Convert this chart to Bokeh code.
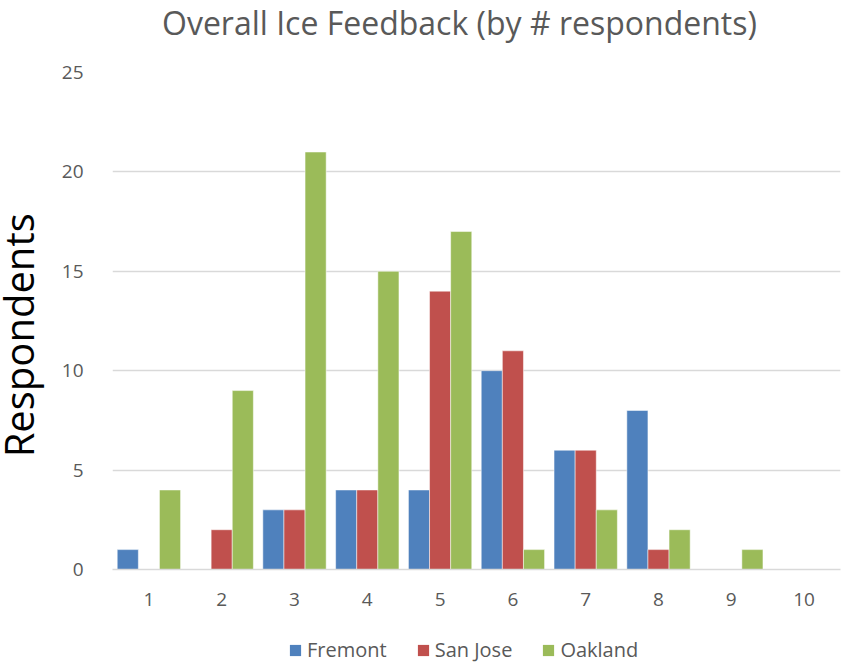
import math
from bokeh.plotting import figure
from bokeh.models import ColumnDataSource, FactorRange, Legend, LegendItem, Range1d, FixedTicker, Label
from bokeh.layouts import column, row
from bokeh.transform import dodge
from bokeh.embed import file_html
from bokeh.resources import INLINE

categories = ["1", "2", "3", "4", "5", "6", "7", "8", "9", "10"]
fremont = [1, 0, 3, 4, 4, 10, 6, 8, 0, 0]
san_jose = [0, 2, 3, 4, 14, 11, 6, 1, 0, 0]
oakland = [4, 9, 21, 15, 17, 1, 3, 2, 1, 0]
series_names = ["Fremont", "San Jose", "Oakland"]
colors = ["#4F81BD", "#C0504D", "#9BBB59"]
title_text = "Overall Ice Feedback (by # respondents)"
y_label = "Respondents"

src = ColumnDataSource(dict(cat=categories, Fremont=fremont, SanJose=san_jose, Oakland=oakland))

FONT = "Open Sans"
LEFT_W = 56
W = 843 - LEFT_W
TOP_H = 44
LEG_H = 30
MAIN_H = 663 - TOP_H - LEG_H


def strip(w, h):
    f = figure(width=w, height=h, x_range=(0, 1), y_range=(0, 1),
               output_backend="svg", toolbar_location=None, min_border=0)
    f.axis.visible = False
    f.grid.visible = False
    f.outline_line_color = None
    return f


# y-axis title strip
left = strip(LEFT_W, 663)
left.add_layout(Label(x=0.3125, y=0.495, text=y_label, angle=math.pi / 2, text_align="center",
                      text_baseline="middle", text_font=FONT, text_font_size="40px", text_color="black"))

# title strip
t = strip(W, TOP_H)
t.add_layout(Label(x=0.4766, y=0.5, text=title_text, text_align="center", text_baseline="middle",
                   text_font=FONT, text_font_size="32px", text_color="#595959"))

p = figure(width=W, height=MAIN_H, x_range=FactorRange(*categories), y_range=Range1d(0, 25),
           output_backend="svg", toolbar_location=None,
           min_border_left=112 - LEFT_W, min_border_right=3, min_border_top=72 - TOP_H,
           min_border_bottom=MAIN_H - (569 - TOP_H))

offs = [-0.29, 0.0, 0.29]
cols = ["Fremont", "SanJose", "Oakland"]
renderers = []
for c, o, col in zip(cols, offs, colors):
    r = p.vbar(x=dodge("cat", o, range=p.x_range), top=c, width=0.29, source=src,
               fill_color=col, line_color="white", line_width=0.5)
    renderers.append(r)

p.outline_line_color = None
p.xgrid.grid_line_color = None
p.ygrid.grid_line_color = "#D9D9D9"
p.ygrid.grid_line_width = 1.3
p.x_range.range_padding = 0
p.x_range.group_padding = 0

p.yaxis.ticker = FixedTicker(ticks=[0, 5, 10, 15, 20, 25])
p.yaxis.axis_line_color = None
p.yaxis.major_tick_line_color = None
p.yaxis.minor_tick_line_color = None
p.yaxis.major_label_text_font = FONT
p.yaxis.major_label_text_font_size = "19px"
p.yaxis.major_label_text_color = "#595959"
p.yaxis.major_label_standoff = 23

p.xaxis.axis_line_color = "#D9D9D9"
p.xaxis.axis_line_width = 1.3
p.xaxis.major_tick_line_color = None
p.xaxis.minor_tick_line_color = None
p.xaxis.major_label_text_font = FONT
p.xaxis.major_label_text_font_size = "19px"
p.xaxis.major_label_text_color = "#595959"
p.xaxis.major_label_standoff = 17

# legend strip
q = strip(W, LEG_H)
leg_renderers = []
for col in colors:
    leg_renderers.append(q.vbar(x=[0.5], top=[0], bottom=[0], width=0.01, fill_color=col, line_color=None))
legend = Legend(items=[LegendItem(label=n, renderers=[r]) for n, r in zip(series_names, leg_renderers)],
                orientation="horizontal", location=(176, 0),
                label_text_font=FONT, label_text_font_size="20px", label_text_color="#595959",
                glyph_width=14, glyph_height=14, spacing=29, label_standoff=5,
                border_line_color=None, background_fill_alpha=0, margin=0, padding=0)
q.add_layout(legend, "center")

layout = row(left, column(t, p, q, spacing=0), spacing=0)
open("out.html", "w").write(file_html(layout, INLINE))
